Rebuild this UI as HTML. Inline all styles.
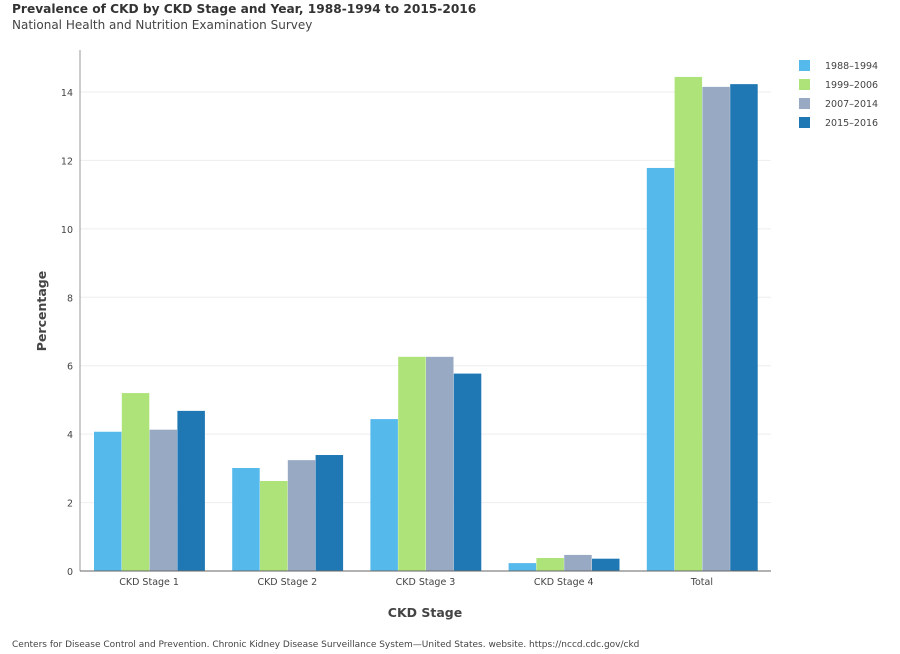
<!DOCTYPE html>
<html><head><meta charset="utf-8"><style>
body{margin:0;width:900px;height:650px;background:#fff;font-family:"DejaVu Sans",sans-serif;overflow:hidden}
</style></head><body>
<svg width="900" height="650" xmlns="http://www.w3.org/2000/svg" font-family="DejaVu Sans, sans-serif">
<text x="12" y="13" font-size="12.2" font-weight="bold" fill="#333">Prevalence of CKD by CKD Stage and Year, 1988-1994 to 2015-2016</text>
<text x="12" y="29" font-size="12" fill="#444">National Health and Nutrition Examination Survey</text>
<g id="grid"></g><g id="bars"></g><g id="axes"></g><g id="legend"></g>
<text x="46" y="311" font-size="12.5" font-weight="bold" fill="#444" text-anchor="middle" transform="rotate(-90 46 311)">Percentage</text>
<text x="425" y="617" font-size="12.5" font-weight="bold" fill="#444" text-anchor="middle">CKD Stage</text>
<text x="12" y="647" font-size="9" fill="#444">Centers for Disease Control and Prevention. Chronic Kidney Disease Surveillance System—United States. website. https://nccd.cdc.gov/ckd</text>
</svg>
<script>
const categories=["CKD Stage 1","CKD Stage 2","CKD Stage 3","CKD Stage 4","Total"];
const seriesNames=["1988–1994","1999–2006","2007–2014","2015–2016"];
const s1988=[4.07,3.01,4.44,0.23,11.78];
const s1999=[5.2,2.63,6.26,0.38,14.44];
const s2007=[4.13,3.24,6.26,0.47,14.15];
const s2015=[4.68,3.39,5.77,0.36,14.23];
const yTicks=[0,2,4,6,8,10,12,14];
const series=[s1988,s1999,s2007,s2015];
const colors=["#56b9ec","#aee379","#98a9c3","#1f78b4"];
const NS="http://www.w3.org/2000/svg";
const X0=80,X1=771,Y0=571,Y14=92;
const y=v=>Y0-(v/14)*(Y0-Y14);
const gw=(X1-X0)/categories.length;
function mk(t,a,p){const e=document.createElementNS(NS,t);for(const k in a)e.setAttribute(k,a[k]);p.appendChild(e);return e;}
const grid=document.getElementById('grid'),bars=document.getElementById('bars'),axes=document.getElementById('axes'),leg=document.getElementById('legend');
yTicks.forEach(t=>{
 if(t>0){const l=mk('line',{x1:X0,x2:X1,y1:y(t),y2:y(t),stroke:'#eee'},grid);
 
 }
 const tx=mk('text',{x:X0-7,y:y(t)+4,'font-size':9.5,fill:'#444','text-anchor':'end'},axes);tx.textContent=t;
 
 
});
const bw=27.5,gap=0.3;
categories.forEach((c,i)=>{
 const start=X0+i*gw+14;
 series.forEach((s,j)=>{
  const r=mk('rect',{x:start+j*(bw+gap),y:y(s[i]),width:bw,height:Y0-y(s[i]),fill:colors[j]},bars);
  
  
 });
 const tx=mk('text',{x:X0+i*gw+gw/2,y:Y0+14,'font-size':9.5,fill:'#444','text-anchor':'middle'},axes);tx.textContent=c;
 
 
});
const ax=mk('line',{x1:X0,x2:X0,y1:50,y2:Y0,stroke:'#999'},axes);


const bx=mk('line',{x1:X0,x2:X1,y1:Y0,y2:Y0,stroke:'#666'},axes);


seriesNames.forEach((n,j)=>{
 const r=mk('rect',{x:799,y:60+j*19,width:11,height:11,fill:colors[j]},leg);
 
 
 const t=mk('text',{x:825,y:69+j*19,'font-size':9.5,fill:'#444'},leg);t.textContent=n;
 
 
});
</script>
</body></html>
